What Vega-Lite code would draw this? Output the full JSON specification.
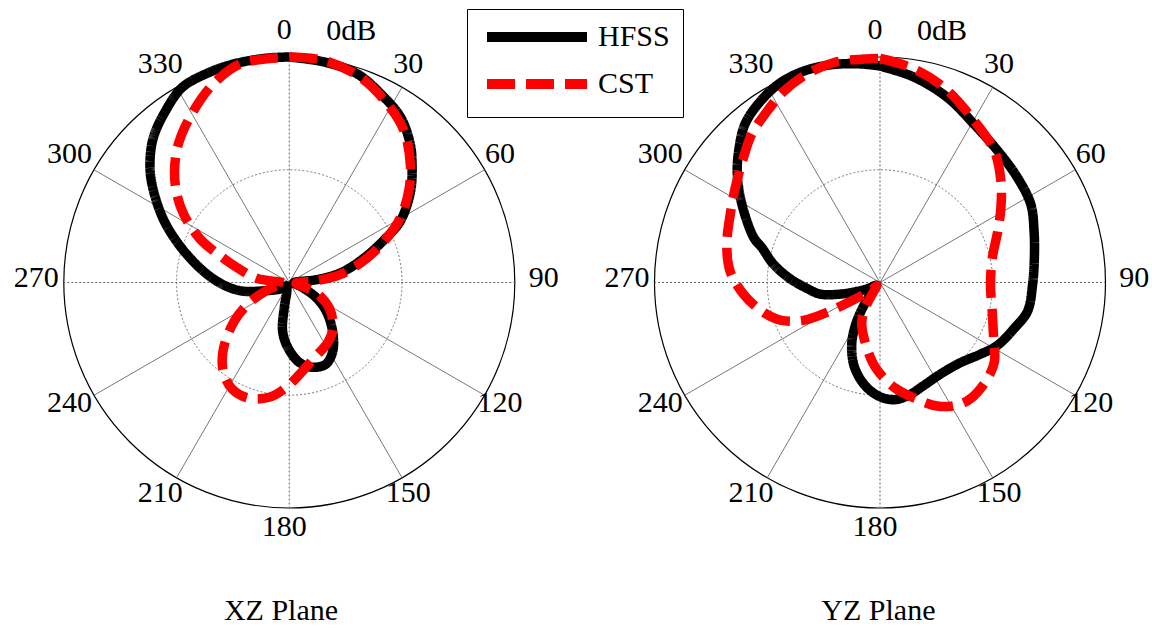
{
  "$schema": "https://vega.github.io/schema/vega-lite/v6.json",
  "padding": 0,
  "spacing": 0,
  "background": "white",
  "config": {
    "view": {"stroke": null},
    "font": "Liberation Serif",
    "text": {"font": "Liberation Serif", "fontSize": 30, "color": "black"},
    "legend": {
      "orient": "none",
      "legendX": 467,
      "legendY": 9,
      "title": null,
      "strokeColor": "black",
      "fillColor": "white",
      "padding": 13,
      "symbolType": "M-5,0H5",
      "symbolSize": 400,
      "symbolStrokeWidth": 10,
      "symbolOffset": 42,
      "labelFont": "Liberation Serif",
      "labelFontSize": 30,
      "labelColor": "black",
      "labelOffset": 46,
      "labelLimit": 0,
      "rowPadding": 7
    }
  },
  "datasets": {
    "pattern": [
      {"plane":"XZ","solver":"HFSS","angle":0,"gain":0},
      {"plane":"XZ","solver":"HFSS","angle":9,"gain":-0.3},
      {"plane":"XZ","solver":"HFSS","angle":18,"gain":-0.8},
      {"plane":"XZ","solver":"HFSS","angle":27,"gain":-2.3},
      {"plane":"XZ","solver":"HFSS","angle":34,"gain":-3.5},
      {"plane":"XZ","solver":"HFSS","angle":41,"gain":-5.5},
      {"plane":"XZ","solver":"HFSS","angle":46,"gain":-7.3},
      {"plane":"XZ","solver":"HFSS","angle":53,"gain":-9.8},
      {"plane":"XZ","solver":"HFSS","angle":61,"gain":-13.1},
      {"plane":"XZ","solver":"HFSS","angle":66,"gain":-16.3},
      {"plane":"XZ","solver":"HFSS","angle":72,"gain":-19.6},
      {"plane":"XZ","solver":"HFSS","angle":79,"gain":-22.9},
      {"plane":"XZ","solver":"HFSS","angle":84,"gain":-26.3},
      {"plane":"XZ","solver":"HFSS","angle":92,"gain":-29.4},
      {"plane":"XZ","solver":"HFSS","angle":100,"gain":-29.3},
      {"plane":"XZ","solver":"HFSS","angle":110.6,"gain":-28.1},
      {"plane":"XZ","solver":"HFSS","angle":119.4,"gain":-25.9},
      {"plane":"XZ","solver":"HFSS","angle":127.7,"gain":-23.8},
      {"plane":"XZ","solver":"HFSS","angle":138.1,"gain":-21.4},
      {"plane":"XZ","solver":"HFSS","angle":147.6,"gain":-19.2},
      {"plane":"XZ","solver":"HFSS","angle":155.8,"gain":-18.1},
      {"plane":"XZ","solver":"HFSS","angle":164.6,"gain":-18.3},
      {"plane":"XZ","solver":"HFSS","angle":172.9,"gain":-19.3},
      {"plane":"XZ","solver":"HFSS","angle":181.5,"gain":-21.4},
      {"plane":"XZ","solver":"HFSS","angle":187.9,"gain":-23.5},
      {"plane":"XZ","solver":"HFSS","angle":191.3,"gain":-26.6},
      {"plane":"XZ","solver":"HFSS","angle":196,"gain":-28.8},
      {"plane":"XZ","solver":"HFSS","angle":220,"gain":-29.4},
      {"plane":"XZ","solver":"HFSS","angle":235,"gain":-28.5},
      {"plane":"XZ","solver":"HFSS","angle":250.3,"gain":-26.8},
      {"plane":"XZ","solver":"HFSS","angle":260.7,"gain":-23.3},
      {"plane":"XZ","solver":"HFSS","angle":271.6,"gain":-20.2},
      {"plane":"XZ","solver":"HFSS","angle":284.4,"gain":-16.2},
      {"plane":"XZ","solver":"HFSS","angle":295.6,"gain":-11.7},
      {"plane":"XZ","solver":"HFSS","angle":304.5,"gain":-8.0},
      {"plane":"XZ","solver":"HFSS","angle":310,"gain":-5.8},
      {"plane":"XZ","solver":"HFSS","angle":316.7,"gain":-3.6},
      {"plane":"XZ","solver":"HFSS","angle":324,"gain":-1.9},
      {"plane":"XZ","solver":"HFSS","angle":331.2,"gain":-0.4},
      {"plane":"XZ","solver":"HFSS","angle":338.5,"gain":-0.1},
      {"plane":"XZ","solver":"HFSS","angle":345.8,"gain":0},
      {"plane":"XZ","solver":"HFSS","angle":354.3,"gain":0},
      {"plane":"XZ","solver":"HFSS","angle":360,"gain":0},

      {"plane":"XZ","solver":"CST","angle":0,"gain":0},
      {"plane":"XZ","solver":"CST","angle":8.8,"gain":-0.1},
      {"plane":"XZ","solver":"CST","angle":19.1,"gain":-1.1},
      {"plane":"XZ","solver":"CST","angle":28.8,"gain":-2.9},
      {"plane":"XZ","solver":"CST","angle":37.1,"gain":-4.7},
      {"plane":"XZ","solver":"CST","angle":45.7,"gain":-7.5},
      {"plane":"XZ","solver":"CST","angle":52.6,"gain":-10.0},
      {"plane":"XZ","solver":"CST","angle":59.8,"gain":-12.9},
      {"plane":"XZ","solver":"CST","angle":65.4,"gain":-15.7},
      {"plane":"XZ","solver":"CST","angle":72.4,"gain":-19.1},
      {"plane":"XZ","solver":"CST","angle":81.1,"gain":-23.1},
      {"plane":"XZ","solver":"CST","angle":86.9,"gain":-26.8},
      {"plane":"XZ","solver":"CST","angle":97,"gain":-29.1},
      {"plane":"XZ","solver":"CST","angle":110.6,"gain":-26.2},
      {"plane":"XZ","solver":"CST","angle":123.1,"gain":-23.6},
      {"plane":"XZ","solver":"CST","angle":136.1,"gain":-21.6},
      {"plane":"XZ","solver":"CST","angle":147.4,"gain":-20.5},
      {"plane":"XZ","solver":"CST","angle":160,"gain":-19.6},
      {"plane":"XZ","solver":"CST","angle":171.4,"gain":-18.1},
      {"plane":"XZ","solver":"CST","angle":181.8,"gain":-16.0},
      {"plane":"XZ","solver":"CST","angle":189.9,"gain":-14.5},
      {"plane":"XZ","solver":"CST","angle":199.2,"gain":-13.7},
      {"plane":"XZ","solver":"CST","angle":208,"gain":-13.9},
      {"plane":"XZ","solver":"CST","angle":216.3,"gain":-15.2},
      {"plane":"XZ","solver":"CST","angle":224.3,"gain":-17.4},
      {"plane":"XZ","solver":"CST","angle":235.1,"gain":-21.1},
      {"plane":"XZ","solver":"CST","angle":243.4,"gain":-24.1},
      {"plane":"XZ","solver":"CST","angle":250.3,"gain":-26.7},
      {"plane":"XZ","solver":"CST","angle":255,"gain":-28.5},
      {"plane":"XZ","solver":"CST","angle":263,"gain":-29.4},
      {"plane":"XZ","solver":"CST","angle":277.1,"gain":-25.7},
      {"plane":"XZ","solver":"CST","angle":285.9,"gain":-22.8},
      {"plane":"XZ","solver":"CST","angle":291.8,"gain":-19.7},
      {"plane":"XZ","solver":"CST","angle":296,"gain":-16.8},
      {"plane":"XZ","solver":"CST","angle":302.8,"gain":-13.3},
      {"plane":"XZ","solver":"CST","angle":308.1,"gain":-11.0},
      {"plane":"XZ","solver":"CST","angle":314.2,"gain":-8.7},
      {"plane":"XZ","solver":"CST","angle":321.3,"gain":-6.4},
      {"plane":"XZ","solver":"CST","angle":329.9,"gain":-4.1},
      {"plane":"XZ","solver":"CST","angle":339.1,"gain":-1.7},
      {"plane":"XZ","solver":"CST","angle":347.3,"gain":-0.2},
      {"plane":"XZ","solver":"CST","angle":354.3,"gain":-0.1},
      {"plane":"XZ","solver":"CST","angle":360,"gain":0},

      {"plane":"YZ","solver":"HFSS","angle":0,"gain":-1.2},
      {"plane":"YZ","solver":"HFSS","angle":9.4,"gain":-2.3},
      {"plane":"YZ","solver":"HFSS","angle":20,"gain":-3.8},
      {"plane":"YZ","solver":"HFSS","angle":30.7,"gain":-5.5},
      {"plane":"YZ","solver":"HFSS","angle":41.8,"gain":-6.5},
      {"plane":"YZ","solver":"HFSS","angle":52.7,"gain":-7.0},
      {"plane":"YZ","solver":"HFSS","angle":62.6,"gain":-7.4},
      {"plane":"YZ","solver":"HFSS","angle":71.6,"gain":-8.4},
      {"plane":"YZ","solver":"HFSS","angle":80.9,"gain":-9.2},
      {"plane":"YZ","solver":"HFSS","angle":90.8,"gain":-9.7},
      {"plane":"YZ","solver":"HFSS","angle":101,"gain":-10.0},
      {"plane":"YZ","solver":"HFSS","angle":108.7,"gain":-11.1},
      {"plane":"YZ","solver":"HFSS","angle":118.3,"gain":-12.3},
      {"plane":"YZ","solver":"HFSS","angle":125.6,"gain":-13.6},
      {"plane":"YZ","solver":"HFSS","angle":135,"gain":-14.9},
      {"plane":"YZ","solver":"HFSS","angle":146.8,"gain":-15.4},
      {"plane":"YZ","solver":"HFSS","angle":157.2,"gain":-15.1},
      {"plane":"YZ","solver":"HFSS","angle":166,"gain":-14.5},
      {"plane":"YZ","solver":"HFSS","angle":173.5,"gain":-14.3},
      {"plane":"YZ","solver":"HFSS","angle":180.8,"gain":-14.9},
      {"plane":"YZ","solver":"HFSS","angle":188.5,"gain":-16.2},
      {"plane":"YZ","solver":"HFSS","angle":197,"gain":-18.3},
      {"plane":"YZ","solver":"HFSS","angle":204.7,"gain":-21.0},
      {"plane":"YZ","solver":"HFSS","angle":210,"gain":-23.5},
      {"plane":"YZ","solver":"HFSS","angle":214,"gain":-25.7},
      {"plane":"YZ","solver":"HFSS","angle":220,"gain":-28.2},
      {"plane":"YZ","solver":"HFSS","angle":232,"gain":-29.4},
      {"plane":"YZ","solver":"HFSS","angle":243,"gain":-28.2},
      {"plane":"YZ","solver":"HFSS","angle":248.9,"gain":-26.7},
      {"plane":"YZ","solver":"HFSS","angle":253.7,"gain":-24.5},
      {"plane":"YZ","solver":"HFSS","angle":259,"gain":-21.9},
      {"plane":"YZ","solver":"HFSS","angle":265.6,"gain":-20.2},
      {"plane":"YZ","solver":"HFSS","angle":272.5,"gain":-18.0},
      {"plane":"YZ","solver":"HFSS","angle":279.8,"gain":-15.6},
      {"plane":"YZ","solver":"HFSS","angle":286.5,"gain":-13.6},
      {"plane":"YZ","solver":"HFSS","angle":289.5,"gain":-12.2},
      {"plane":"YZ","solver":"HFSS","angle":299.5,"gain":-8.9},
      {"plane":"YZ","solver":"HFSS","angle":307.1,"gain":-6.2},
      {"plane":"YZ","solver":"HFSS","angle":313,"gain":-4.3},
      {"plane":"YZ","solver":"HFSS","angle":319.6,"gain":-2.3},
      {"plane":"YZ","solver":"HFSS","angle":326.7,"gain":-1.1},
      {"plane":"YZ","solver":"HFSS","angle":333.5,"gain":-0.3},
      {"plane":"YZ","solver":"HFSS","angle":340.2,"gain":-0.1},
      {"plane":"YZ","solver":"HFSS","angle":347.2,"gain":-0.3},
      {"plane":"YZ","solver":"HFSS","angle":354.9,"gain":-0.8},
      {"plane":"YZ","solver":"HFSS","angle":360,"gain":-1.2},

      {"plane":"YZ","solver":"CST","angle":0,"gain":-0.2},
      {"plane":"YZ","solver":"CST","angle":8.1,"gain":-1.1},
      {"plane":"YZ","solver":"CST","angle":18.2,"gain":-2.7},
      {"plane":"YZ","solver":"CST","angle":30.2,"gain":-5.1},
      {"plane":"YZ","solver":"CST","angle":41,"gain":-6.8},
      {"plane":"YZ","solver":"CST","angle":50,"gain":-9.0},
      {"plane":"YZ","solver":"CST","angle":58.3,"gain":-11.1},
      {"plane":"YZ","solver":"CST","angle":66.4,"gain":-12.9},
      {"plane":"YZ","solver":"CST","angle":77.6,"gain":-14.7},
      {"plane":"YZ","solver":"CST","angle":91.1,"gain":-15.3},
      {"plane":"YZ","solver":"CST","angle":104.3,"gain":-14.6},
      {"plane":"YZ","solver":"CST","angle":116.5,"gain":-13.1},
      {"plane":"YZ","solver":"CST","angle":124.6,"gain":-11.5},
      {"plane":"YZ","solver":"CST","angle":132,"gain":-10.8},
      {"plane":"YZ","solver":"CST","angle":141.5,"gain":-10.4},
      {"plane":"YZ","solver":"CST","angle":147.6,"gain":-10.7},
      {"plane":"YZ","solver":"CST","angle":155.2,"gain":-11.9},
      {"plane":"YZ","solver":"CST","angle":163.6,"gain":-14.0},
      {"plane":"YZ","solver":"CST","angle":171.8,"gain":-15.8},
      {"plane":"YZ","solver":"CST","angle":183.5,"gain":-18.8},
      {"plane":"YZ","solver":"CST","angle":196.5,"gain":-22.4},
      {"plane":"YZ","solver":"CST","angle":204,"gain":-24.0},
      {"plane":"YZ","solver":"CST","angle":209,"gain":-25.5},
      {"plane":"YZ","solver":"CST","angle":212,"gain":-27.0},
      {"plane":"YZ","solver":"CST","angle":216,"gain":-28.8},
      {"plane":"YZ","solver":"CST","angle":223,"gain":-29.4},
      {"plane":"YZ","solver":"CST","angle":230,"gain":-28.2},
      {"plane":"YZ","solver":"CST","angle":237.6,"gain":-25.3},
      {"plane":"YZ","solver":"CST","angle":240.6,"gain":-21.9},
      {"plane":"YZ","solver":"CST","angle":243.8,"gain":-18.6},
      {"plane":"YZ","solver":"CST","angle":249.4,"gain":-15.8},
      {"plane":"YZ","solver":"CST","angle":255.6,"gain":-14.0},
      {"plane":"YZ","solver":"CST","angle":265,"gain":-11.8},
      {"plane":"YZ","solver":"CST","angle":274.3,"gain":-10.0},
      {"plane":"YZ","solver":"CST","angle":284,"gain":-9.0},
      {"plane":"YZ","solver":"CST","angle":295.5,"gain":-8.0},
      {"plane":"YZ","solver":"CST","angle":304.4,"gain":-6.8},
      {"plane":"YZ","solver":"CST","angle":311.4,"gain":-5.6},
      {"plane":"YZ","solver":"CST","angle":319.2,"gain":-3.9},
      {"plane":"YZ","solver":"CST","angle":326.7,"gain":-2.7},
      {"plane":"YZ","solver":"CST","angle":333.4,"gain":-1.5},
      {"plane":"YZ","solver":"CST","angle":340.7,"gain":-0.6},
      {"plane":"YZ","solver":"CST","angle":348.2,"gain":-0.1},
      {"plane":"YZ","solver":"CST","angle":355.9,"gain":-0.2},
      {"plane":"YZ","solver":"CST","angle":360,"gain":-0.2}
    ],
    "rings": [{"level": 0}, {"level": -15}],
    "spokes": [
      {"angle":0},{"angle":30},{"angle":60},{"angle":90},{"angle":120},{"angle":150},
      {"angle":180},{"angle":210},{"angle":240},{"angle":270},{"angle":300},{"angle":330}
    ],
    "panels": [
      {"plane":"XZ","caption":"XZ Plane","rlabel":"0dB"},
      {"plane":"YZ","caption":"YZ Plane","rlabel":"0dB"}
    ]
  },
  "resolve": {
    "scale": {"x": "independent", "y": "independent", "color": "shared", "strokeDash": "shared"}
  },
  "hconcat": [
    {
      "width": 585,
      "height": 628,
      "layer": [
        {
          "data": {"name": "rings"},
          "transform": [
            {"filter": "datum.level == 0"},
            {"calculate": "0", "as": "cx"}
          ],
          "mark": {"type": "point", "shape": "circle", "filled": false, "size": 203401, "stroke": "black", "strokeWidth": 1.2, "opacity": 1},
          "encoding": {
            "x": {"field": "cx", "type": "quantitative", "scale": {"domain": [-1.2829, 1.3113], "nice": false, "zero": false}, "axis": null},
            "y": {"field": "cx", "type": "quantitative", "scale": {"domain": [-1.5322, 1.2528], "nice": false, "zero": false}, "axis": null}
          }
        },
        {
          "data": {"name": "rings"},
          "transform": [
            {"filter": "datum.level == -15"},
            {"calculate": "0", "as": "cx"}
          ],
          "mark": {"type": "point", "shape": "circle", "filled": false, "size": 50850, "stroke": "#777777", "strokeWidth": 1, "strokeDash": [2, 2], "opacity": 1},
          "encoding": {
            "x": {"field": "cx", "type": "quantitative"},
            "y": {"field": "cx", "type": "quantitative"}
          }
        },
        {
          "data": {"name": "spokes"},
          "transform": [
            {"filter": "datum.angle % 90 != 0"},
            {"calculate": "sin(datum.angle * PI / 180)", "as": "sx"},
            {"calculate": "cos(datum.angle * PI / 180)", "as": "sy"},
            {"calculate": "0", "as": "cx"}
          ],
          "mark": {"type": "rule", "stroke": "#555555", "strokeWidth": 0.8},
          "encoding": {
            "x": {"field": "cx", "type": "quantitative"},
            "y": {"field": "cx", "type": "quantitative"},
            "x2": {"field": "sx"},
            "y2": {"field": "sy"}
          }
        },
        {
          "data": {"name": "spokes"},
          "transform": [
            {"filter": "datum.angle % 90 == 0"},
            {"calculate": "sin(datum.angle * PI / 180)", "as": "sx"},
            {"calculate": "cos(datum.angle * PI / 180)", "as": "sy"},
            {"calculate": "0", "as": "cx"}
          ],
          "mark": {"type": "rule", "stroke": "#666666", "strokeWidth": 1, "strokeDash": [2, 2]},
          "encoding": {
            "x": {"field": "cx", "type": "quantitative"},
            "y": {"field": "cx", "type": "quantitative"},
            "x2": {"field": "sx"},
            "y2": {"field": "sy"}
          }
        },
        {
          "data": {"name": "pattern"},
          "transform": [
            {"filter": "datum.plane == 'XZ' && datum.solver == 'HFSS'"},
            {"calculate": "max(0, (datum.gain + 30) / 30)", "as": "r"},
            {"calculate": "datum.r * sin(datum.angle * PI / 180)", "as": "px"},
            {"calculate": "datum.r * cos(datum.angle * PI / 180)", "as": "py"}
          ],
          "mark": {"type": "line", "strokeWidth": 9.5, "strokeCap": "butt", "strokeJoin": "round", "interpolate": "catmull-rom"},
          "encoding": {
            "x": {"field": "px", "type": "quantitative"},
            "y": {"field": "py", "type": "quantitative"},
            "order": {"field": "angle", "type": "quantitative"},
            "color": {"field": "solver", "type": "nominal", "scale": {"domain": ["HFSS", "CST"], "range": ["#000000", "#ff0000"]}},
            "strokeDash": {"field": "solver", "type": "nominal", "scale": {"domain": ["HFSS", "CST"], "range": [[1, 0], [28, 11]]}}
          }
        },
        {
          "data": {"name": "pattern"},
          "transform": [
            {"filter": "datum.plane == 'XZ' && datum.solver == 'CST'"},
            {"calculate": "max(0, (datum.gain + 30) / 30)", "as": "r"},
            {"calculate": "datum.r * sin(datum.angle * PI / 180)", "as": "px"},
            {"calculate": "datum.r * cos(datum.angle * PI / 180)", "as": "py"}
          ],
          "mark": {"type": "line", "strokeWidth": 9.5, "strokeCap": "butt", "strokeJoin": "round", "interpolate": "catmull-rom"},
          "encoding": {
            "x": {"field": "px", "type": "quantitative"},
            "y": {"field": "py", "type": "quantitative"},
            "order": {"field": "angle", "type": "quantitative"},
            "color": {"field": "solver", "type": "nominal"},
            "strokeDash": {"field": "solver", "type": "nominal"}
          }
        },
        {
          "data": {"name": "spokes"},
          "transform": [
            {"calculate": "(1.1 + 0.05 * pow(max(0, sin(datum.angle * PI / 180)), 16)) * sin(datum.angle * PI / 180)", "as": "lx"},
            {"calculate": "1.1 * cos(datum.angle * PI / 180)", "as": "ly"}
          ],
          "mark": {"type": "text", "align": "center", "baseline": "middle", "fontSize": 30, "dx": -5, "dy": -4},
          "encoding": {
            "x": {"field": "lx", "type": "quantitative"},
            "y": {"field": "ly", "type": "quantitative"},
            "text": {"field": "angle", "type": "nominal"}
          }
        },
        {
          "data": {"name": "panels"},
          "transform": [
            {"filter": "datum.plane == 'XZ'"},
            {"calculate": "0.275", "as": "tx"},
            {"calculate": "1.11", "as": "ty"}
          ],
          "mark": {"type": "text", "align": "center", "baseline": "middle", "fontSize": 30, "dy": -1},
          "encoding": {
            "x": {"field": "tx", "type": "quantitative"},
            "y": {"field": "ty", "type": "quantitative"},
            "text": {"field": "rlabel", "type": "nominal"}
          }
        },
        {
          "data": {"name": "panels"},
          "transform": [
            {"filter": "datum.plane == 'XZ'"},
            {"calculate": "-0.037", "as": "tx"},
            {"calculate": "-1.457", "as": "ty"}
          ],
          "mark": {"type": "text", "align": "center", "baseline": "middle", "fontSize": 30},
          "encoding": {
            "x": {"field": "tx", "type": "quantitative"},
            "y": {"field": "ty", "type": "quantitative"},
            "text": {"field": "caption", "type": "nominal"}
          }
        }
      ]
    },
    {
      "width": 567,
      "height": 628,
      "layer": [
        {
          "data": {"name": "rings"},
          "transform": [
            {"filter": "datum.level == 0"},
            {"calculate": "0", "as": "cx"}
          ],
          "mark": {"type": "point", "shape": "circle", "filled": false, "size": 203401, "stroke": "black", "strokeWidth": 1.2, "opacity": 1},
          "encoding": {
            "x": {"field": "cx", "type": "quantitative", "scale": {"domain": [-1.3082, 1.2062], "nice": false, "zero": false}, "axis": null},
            "y": {"field": "cx", "type": "quantitative", "scale": {"domain": [-1.5322, 1.2528], "nice": false, "zero": false}, "axis": null}
          }
        },
        {
          "data": {"name": "rings"},
          "transform": [
            {"filter": "datum.level == -15"},
            {"calculate": "0", "as": "cx"}
          ],
          "mark": {"type": "point", "shape": "circle", "filled": false, "size": 50850, "stroke": "#777777", "strokeWidth": 1, "strokeDash": [2, 2], "opacity": 1},
          "encoding": {
            "x": {"field": "cx", "type": "quantitative"},
            "y": {"field": "cx", "type": "quantitative"}
          }
        },
        {
          "data": {"name": "spokes"},
          "transform": [
            {"filter": "datum.angle % 90 != 0"},
            {"calculate": "sin(datum.angle * PI / 180)", "as": "sx"},
            {"calculate": "cos(datum.angle * PI / 180)", "as": "sy"},
            {"calculate": "0", "as": "cx"}
          ],
          "mark": {"type": "rule", "stroke": "#555555", "strokeWidth": 0.8},
          "encoding": {
            "x": {"field": "cx", "type": "quantitative"},
            "y": {"field": "cx", "type": "quantitative"},
            "x2": {"field": "sx"},
            "y2": {"field": "sy"}
          }
        },
        {
          "data": {"name": "spokes"},
          "transform": [
            {"filter": "datum.angle % 90 == 0"},
            {"calculate": "sin(datum.angle * PI / 180)", "as": "sx"},
            {"calculate": "cos(datum.angle * PI / 180)", "as": "sy"},
            {"calculate": "0", "as": "cx"}
          ],
          "mark": {"type": "rule", "stroke": "#666666", "strokeWidth": 1, "strokeDash": [2, 2]},
          "encoding": {
            "x": {"field": "cx", "type": "quantitative"},
            "y": {"field": "cx", "type": "quantitative"},
            "x2": {"field": "sx"},
            "y2": {"field": "sy"}
          }
        },
        {
          "data": {"name": "pattern"},
          "transform": [
            {"filter": "datum.plane == 'YZ' && datum.solver == 'HFSS'"},
            {"calculate": "max(0, (datum.gain + 30) / 30)", "as": "r"},
            {"calculate": "datum.r * sin(datum.angle * PI / 180)", "as": "px"},
            {"calculate": "datum.r * cos(datum.angle * PI / 180)", "as": "py"}
          ],
          "mark": {"type": "line", "strokeWidth": 9.5, "strokeCap": "butt", "strokeJoin": "round", "interpolate": "catmull-rom"},
          "encoding": {
            "x": {"field": "px", "type": "quantitative"},
            "y": {"field": "py", "type": "quantitative"},
            "order": {"field": "angle", "type": "quantitative"},
            "color": {"field": "solver", "type": "nominal"},
            "strokeDash": {"field": "solver", "type": "nominal"}
          }
        },
        {
          "data": {"name": "pattern"},
          "transform": [
            {"filter": "datum.plane == 'YZ' && datum.solver == 'CST'"},
            {"calculate": "max(0, (datum.gain + 30) / 30)", "as": "r"},
            {"calculate": "datum.r * sin(datum.angle * PI / 180)", "as": "px"},
            {"calculate": "datum.r * cos(datum.angle * PI / 180)", "as": "py"}
          ],
          "mark": {"type": "line", "strokeWidth": 9.5, "strokeCap": "butt", "strokeJoin": "round", "interpolate": "catmull-rom"},
          "encoding": {
            "x": {"field": "px", "type": "quantitative"},
            "y": {"field": "py", "type": "quantitative"},
            "order": {"field": "angle", "type": "quantitative"},
            "color": {"field": "solver", "type": "nominal"},
            "strokeDash": {"field": "solver", "type": "nominal"}
          }
        },
        {
          "data": {"name": "spokes"},
          "transform": [
            {"calculate": "(1.1 + 0.05 * pow(max(0, sin(datum.angle * PI / 180)), 16)) * sin(datum.angle * PI / 180)", "as": "lx"},
            {"calculate": "1.1 * cos(datum.angle * PI / 180)", "as": "ly"}
          ],
          "mark": {"type": "text", "align": "center", "baseline": "middle", "fontSize": 30, "dx": -5, "dy": -4},
          "encoding": {
            "x": {"field": "lx", "type": "quantitative"},
            "y": {"field": "ly", "type": "quantitative"},
            "text": {"field": "angle", "type": "nominal"}
          }
        },
        {
          "data": {"name": "panels"},
          "transform": [
            {"filter": "datum.plane == 'YZ'"},
            {"calculate": "0.275", "as": "tx"},
            {"calculate": "1.11", "as": "ty"}
          ],
          "mark": {"type": "text", "align": "center", "baseline": "middle", "fontSize": 30, "dy": -1},
          "encoding": {
            "x": {"field": "tx", "type": "quantitative"},
            "y": {"field": "ty", "type": "quantitative"},
            "text": {"field": "rlabel", "type": "nominal"}
          }
        },
        {
          "data": {"name": "panels"},
          "transform": [
            {"filter": "datum.plane == 'YZ'"},
            {"calculate": "-0.007", "as": "tx"},
            {"calculate": "-1.457", "as": "ty"}
          ],
          "mark": {"type": "text", "align": "center", "baseline": "middle", "fontSize": 30},
          "encoding": {
            "x": {"field": "tx", "type": "quantitative"},
            "y": {"field": "ty", "type": "quantitative"},
            "text": {"field": "caption", "type": "nominal"}
          }
        }
      ]
    }
  ]
}
